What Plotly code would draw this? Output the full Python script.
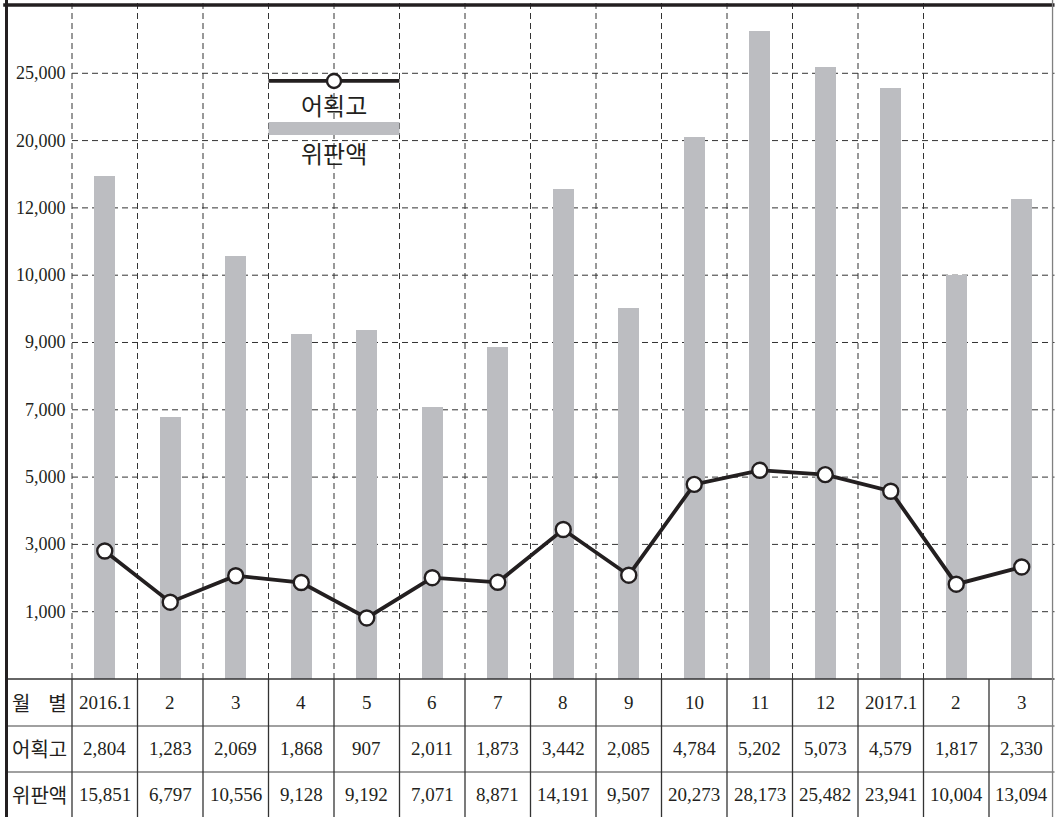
import numpy as np
import plotly.graph_objects as go

# data
months = ["2016.1", "2", "3", "4", "5", "6", "7", "8", "9", "10", "11", "12", "2017.1", "2", "3"]
catch = [2804, 1283, 2069, 1868, 907, 2011, 1873, 3442, 2085, 4784, 5202, 5073, 4579, 1817, 2330]
sales = [15851, 6797, 10556, 9128, 9192, 7071, 8871, 14191, 9507, 20273, 28173, 25482, 23941, 10004, 13094]

# uneven axis labels, equally spaced on the chart
tick_values = [1000, 3000, 5000, 7000, 9000, 10000, 12000, 20000, 25000]
tick_labels = ["1,000", "3,000", "5,000", "7,000", "9,000", "10,000", "12,000", "20,000", "25,000"]

# piecewise scale: value -> grid step
scale_vals = [0] + tick_values + [30000]
scale_pos = list(range(len(scale_vals)))


def to_axis(v):
    return np.interp(v, scale_vals, scale_pos)


xs = list(range(len(months)))
serif = "Liberation Serif"
kr = "Noto Sans CJK KR"
ink = "#231f20"

fig = go.Figure()

# 위판액 bars
fig.add_trace(go.Bar(
    x=xs, y=to_axis(sales), width=0.32,
    marker=dict(color="#bcbdc1", line=dict(width=0)),
    name="위판액", showlegend=False
))

# 어획고 line
fig.add_trace(go.Scatter(
    x=xs, y=to_axis(catch), mode="lines+markers",
    line=dict(color=ink, width=3.8),
    marker=dict(symbol="circle", size=15, color="white",
                line=dict(color=ink, width=2.4)),
    name="어획고", showlegend=False
))

shapes = []
grid = dict(color="#333333", width=1, dash="6px,4px")
# horizontal dashed grid
for i in range(1, len(tick_values) + 1):
    shapes.append(dict(type="line", x0=-0.5, x1=14.5, y0=i, y1=i, line=grid, layer="below"))
# vertical dashed grid in chart area
for i in range(len(months) - 1):
    shapes.append(dict(type="line", x0=i - 0.5, x1=i - 0.5, y0=0, y1=10.1, line=grid, layer="below"))

# table lines
row_edges = [0, -0.698, -1.382]
for j, yv in enumerate(row_edges):
    shapes.append(dict(type="line", x0=-1.5, x1=14.5, y0=yv, y1=yv,
                       line=dict(color="#333333" if j == 0 else "#808080", width=1.5)))
for i in range(len(months)):
    shapes.append(dict(type="line", x0=i - 0.5, x1=i - 0.5, y0=0, y1=-2.1,
                       line=dict(color="#333333", width=1.3)))

# frame
shapes.append(dict(type="line", x0=-1.5, x1=-1.5, y0=-2.1, y1=10.1, line=dict(color=ink, width=3)))
shapes.append(dict(type="line", x0=-1.55, x1=14.5, y0=10.015, y1=10.015, line=dict(color=ink, width=3.5)))
shapes.append(dict(type="line", x0=14.47, x1=14.47, y0=-2.1, y1=10.1, line=dict(color="#808080", width=1.3)))

# legend key
shapes.append(dict(type="line", x0=2.5, x1=4.5, y0=8.886, y1=8.886, line=dict(color=ink, width=3.8)))
shapes.append(dict(type="circle", xref="x", yref="y", xsizemode="pixel", ysizemode="pixel",
                   xanchor=3.5, yanchor=8.886, x0=-7, x1=7, y0=-7, y1=7,
                   fillcolor="white", line=dict(color=ink, width=2.4)))
shapes.append(dict(type="rect", x0=2.5, x1=4.5, y0=8.083, y1=8.276,
                   fillcolor="#bcbdc1", line=dict(width=0)))

annotations = []
for i, lab in enumerate(tick_labels, start=1):
    annotations.append(dict(x=-0.56, y=i, text=lab, showarrow=False, xanchor="right", yanchor="middle",
                            font=dict(family=serif, size=18, color=ink)))

annotations.append(dict(x=3.5, y=8.54, text="어획고", showarrow=False,
                        font=dict(family=kr, size=24, color=ink)))
annotations.append(dict(x=3.5, y=7.83, text="위판액", showarrow=False,
                        font=dict(family=kr, size=24, color=ink)))

# table text
row_y = [-0.35, -1.04, -1.72]
nb = "\u00a0"
row_heads = ["월" + nb * 4 + "별", "어획고", "위판액"]
for yv, head in zip(row_y, row_heads):
    annotations.append(dict(x=-1.0, y=yv, text=head, showarrow=False,
                            font=dict(family=kr, size=20, color=ink)))
for i in xs:
    annotations.append(dict(x=i, y=row_y[0], text=months[i], showarrow=False,
                            font=dict(family=serif, size=19, color=ink)))
    annotations.append(dict(x=i, y=row_y[1], text=f"{catch[i]:,}", showarrow=False,
                            font=dict(family=serif, size=19, color=ink)))
    annotations.append(dict(x=i, y=row_y[2], text=f"{sales[i]:,}", showarrow=False,
                            font=dict(family=serif, size=19, color=ink)))

fig.update_layout(
    width=1055, height=817,
    margin=dict(l=0, r=0, t=0, b=0),
    plot_bgcolor="white", paper_bgcolor="white",
    xaxis=dict(range=[-1.5992, 14.5076], visible=False, fixedrange=True),
    yaxis=dict(range=[-2.0505, 10.089], visible=False, fixedrange=True),
    shapes=shapes, annotations=annotations,
    bargap=0,
)

fig.write_html("out.html", config={"displayModeBar": False},
               post_script="document.body.style.margin='0';document.body.style.overflow='hidden';")
